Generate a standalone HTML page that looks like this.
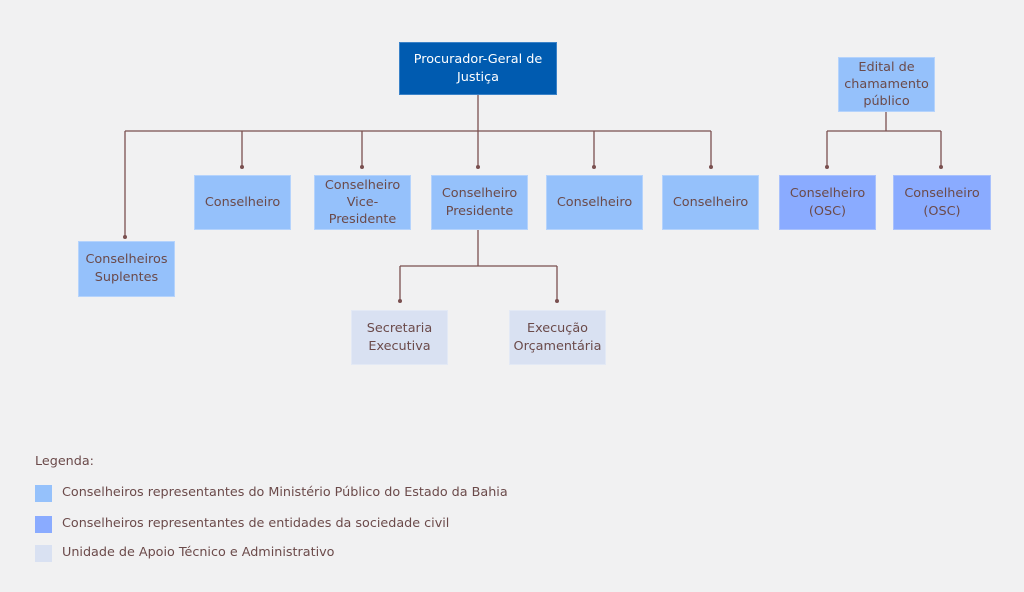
<!DOCTYPE html>
<html><head><meta charset="utf-8"><style>
body{margin:0;width:1024px;height:592px;background:#f1f1f2;font-family:"DejaVu Sans","Liberation Sans",sans-serif;overflow:hidden;position:relative}
.b{position:absolute;display:flex;align-items:center;justify-content:center;text-align:center;font-size:12.8px;line-height:18px;color:#6b4a4a;box-sizing:border-box}
.m{background:#95c1fb;border:1px solid #b5d3fc}
.o{background:#8aabff;border:1px solid #a9c1fc}
.u{background:#d9e1f2;border:1px solid #e3e9f5}
.l{position:absolute;font-size:12.75px;color:#6b4a4a}
.s{position:absolute;width:17px;height:17px;left:35px}
</style></head><body>
<svg width="1024" height="592" style="position:absolute;left:0;top:0" stroke="#7a5050" stroke-width="1.3" fill="#7a5050">
<path d="M478 94V167M125 131H711M125 131V237M242 131V167M362 131V167M594 131V167M711 131V167M886 112V131M827 131H941M827 131V167M941 131V167M478 229V266M400 266H557M400 266V301M557 266V301" fill="none"/>
<g stroke="none"><circle cx="125" cy="237" r="2"/><circle cx="242" cy="167" r="2"/><circle cx="362" cy="167" r="2"/><circle cx="478" cy="167" r="2"/><circle cx="594" cy="167" r="2"/><circle cx="711" cy="167" r="2"/><circle cx="827" cy="167" r="2"/><circle cx="941" cy="167" r="2"/><circle cx="400" cy="301" r="2"/><circle cx="557" cy="301" r="2"/></g>
</svg>
<div class="b" style="left:399px;top:42px;width:158px;height:53px;background:#005bb0;border:1px solid #3a82c8;color:#fff">Procurador-Geral de<br>Justiça</div>
<div class="b m" style="left:838px;top:57px;width:97px;height:55px;line-height:17px">Edital de<br>chamamento<br>público</div>
<div class="b m" style="left:194px;top:175px;width:97px;height:55px">Conselheiro</div>
<div class="b m" style="left:314px;top:175px;width:97px;height:55px;line-height:17px">Conselheiro<br>Vice-<br>Presidente</div>
<div class="b m" style="left:431px;top:175px;width:97px;height:55px">Conselheiro<br>Presidente</div>
<div class="b m" style="left:546px;top:175px;width:97px;height:55px">Conselheiro</div>
<div class="b m" style="left:662px;top:175px;width:97px;height:55px">Conselheiro</div>
<div class="b o" style="left:779px;top:175px;width:97px;height:55px">Conselheiro<br>(OSC)</div>
<div class="b o" style="left:893px;top:175px;width:98px;height:55px">Conselheiro<br>(OSC)</div>
<div class="b m" style="left:78px;top:241px;width:97px;height:56px">Conselheiros<br>Suplentes</div>
<div class="b u" style="left:351px;top:310px;width:97px;height:55px">Secretaria<br>Executiva</div>
<div class="b u" style="left:509px;top:310px;width:97px;height:55px">Execução<br>Orçamentária</div>
<div class="l" style="left:35px;top:454px">Legenda:</div>
<div class="s" style="top:485px;background:#95c1fb"></div><div class="l" style="left:62px;top:485px">Conselheiros representantes do Ministério Público do Estado da Bahia</div>
<div class="s" style="top:516px;background:#8aabff"></div><div class="l" style="left:62px;top:516px">Conselheiros representantes de entidades da sociedade civil</div>
<div class="s" style="top:545px;background:#d9e1f2"></div><div class="l" style="left:62px;top:545px">Unidade de Apoio Técnico e Administrativo</div>
</body></html>
